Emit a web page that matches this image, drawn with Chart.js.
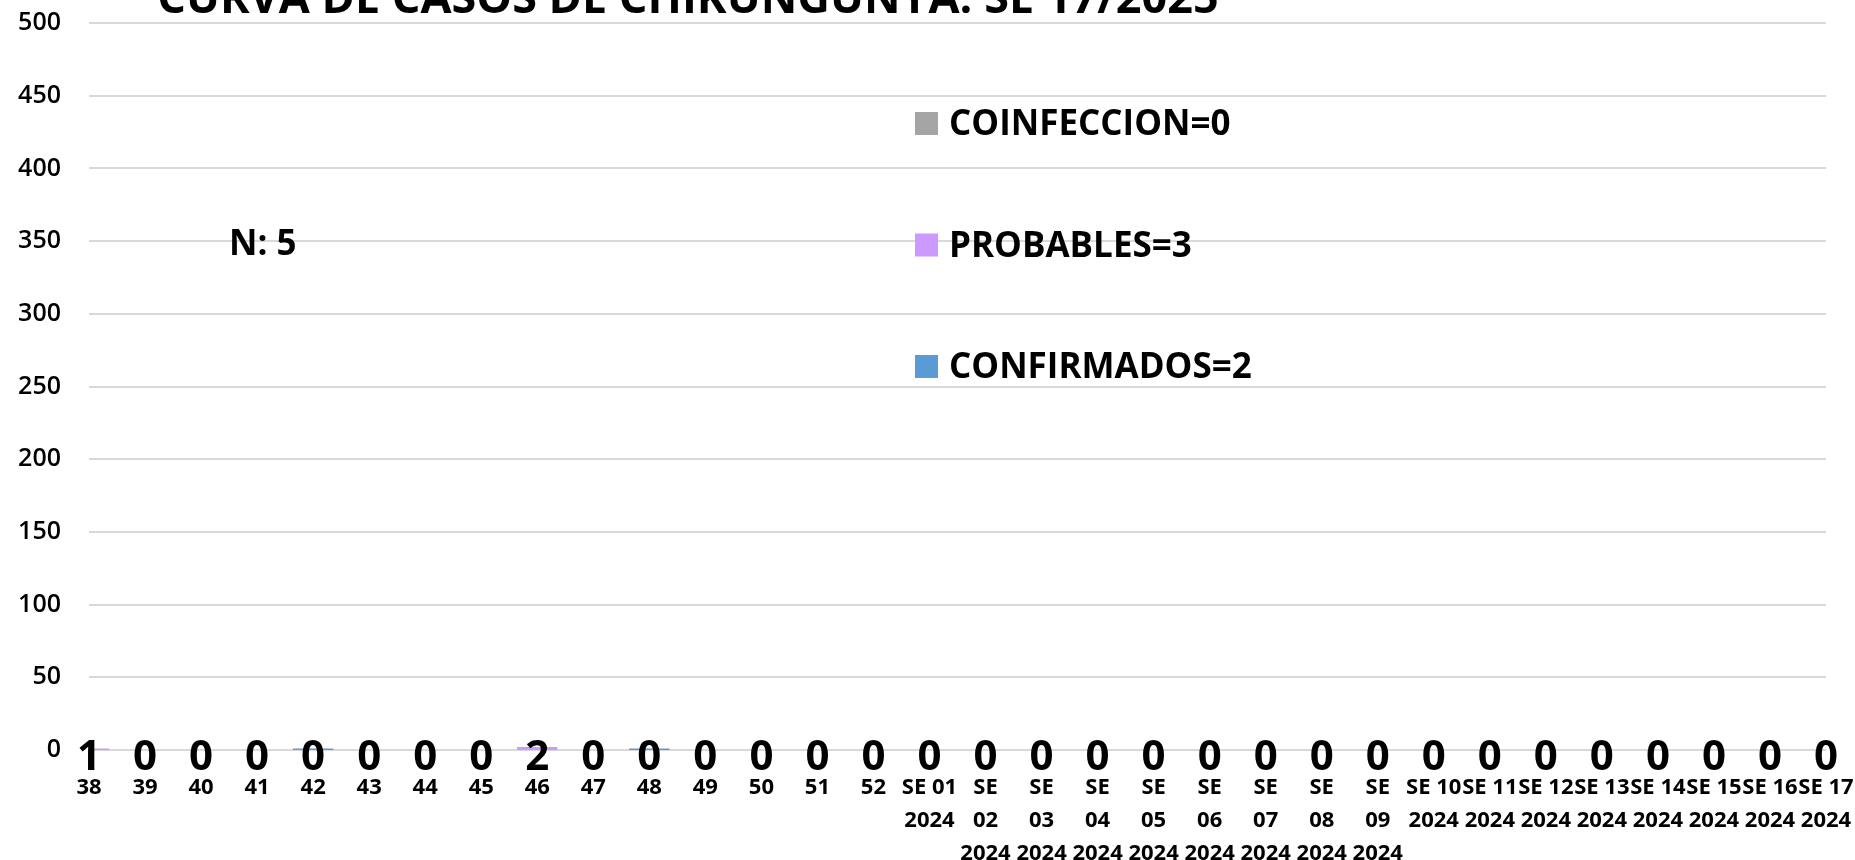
<!DOCTYPE html>
<html>
<head>
<meta charset="utf-8">
<script src="https://cdn.jsdelivr.net/npm/chart.js@4.4.1/dist/chart.umd.min.js"></script>
<style>
  html, body { margin: 0; padding: 0; background: #fff; }
  #wrap { width: 1855px; height: 860px; position: relative; }
</style>
</head>
<body>
<div id="wrap"><canvas id="barChart"></canvas></div>
<script>
// semanas epidemiologicas
const semanas = ['38', '39', '40', '41', '42', '43', '44', '45', '46', '47', '48', '49', '50', '51', '52',
  ['SE 01', '2024'], ['SE', '02', '2024'], ['SE', '03', '2024'], ['SE', '04', '2024'], ['SE', '05', '2024'],
  ['SE', '06', '2024'], ['SE', '07', '2024'], ['SE', '08', '2024'], ['SE', '09', '2024'],
  ['SE 10', '2024'], ['SE 11', '2024'], ['SE 12', '2024'], ['SE 13', '2024'], ['SE 14', '2024'],
  ['SE 15', '2024'], ['SE 16', '2024'], ['SE 17', '2024']];

const confirmados = [0, 0, 0, 0, 1, 0, 0, 0, 0, 0, 1, 0, 0, 0, 0, 0, 0, 0, 0, 0, 0, 0, 0, 0, 0, 0, 0, 0, 0, 0, 0, 0];
const probables   = [1, 0, 0, 0, 0, 0, 0, 0, 2, 0, 0, 0, 0, 0, 0, 0, 0, 0, 0, 0, 0, 0, 0, 0, 0, 0, 0, 0, 0, 0, 0, 0];
const coinfeccion = [0, 0, 0, 0, 0, 0, 0, 0, 0, 0, 0, 0, 0, 0, 0, 0, 0, 0, 0, 0, 0, 0, 0, 0, 0, 0, 0, 0, 0, 0, 0, 0];

const nombres = ['CONFIRMADOS=2', 'PROBABLES=3', 'COINFECCION=0'];
const colores = ['#5b9bd5', '#cc99ff', '#a5a5a5'];
const titulo = 'CURVA DE CASOS DE CHIKUNGUNYA. SE 17/2025';
const totalTexto = 'N: 5';

const FONT = '"Open Sans", "Noto Sans", sans-serif';

// lineas de la grilla solo entre la primera y la ultima semana
const grilla = {
  id: 'grilla',
  beforeDatasetsDraw(chart) {
    const ctx = chart.ctx;
    const x = chart.scales.x, y = chart.scales.y;
    const x0 = x.getPixelForValue(0);
    const x1 = x.getPixelForValue(semanas.length - 1);
    ctx.save();
    ctx.strokeStyle = '#d9d9d9';
    ctx.lineWidth = 2;
    y.ticks.forEach(t => {
      const py = Math.round(y.getPixelForValue(t.value));
      ctx.beginPath();
      ctx.moveTo(x0, py);
      ctx.lineTo(x1, py);
      ctx.stroke();
    });
    ctx.restore();
  }
};

// titulo, N, etiquetas y leyenda dibujados a mano
const extras = {
  id: 'extras',
  afterDatasetsDraw(chart) {
    const ctx = chart.ctx;
    const x = chart.scales.x, y = chart.scales.y;
    ctx.save();
    ctx.fillStyle = '#000';

    // etiquetas de datos (probables)
    ctx.font = 'bold 42px ' + FONT;
    ctx.textAlign = 'center';
    ctx.textBaseline = 'alphabetic';
    probables.forEach((v, i) => {
      ctx.fillText(String(v), x.getPixelForValue(i), y.getPixelForValue(0) + 20);
    });

    // titulo
    ctx.font = 'bold 45px ' + FONT;
    ctx.fillText(titulo, 688, 13);

    // N
    ctx.textAlign = 'left';
    ctx.font = 'bold 35px ' + FONT;
    ctx.fillText(totalTexto, 229, 255);

    // leyenda (orden inverso como en excel)
    ctx.font = 'bold 35px ' + FONT;
    const ds = chart.data.datasets.slice().reverse();
    ds.forEach((d, k) => {
      const base = 135 + k * 121.5;
      ctx.fillStyle = d.backgroundColor;
      ctx.fillRect(915, base - 23, 23, 23);
      ctx.fillStyle = '#000';
      ctx.fillText(d.label, 949, base);
    });
    ctx.restore();
  }
};

const ctx = document.getElementById('barChart');
new Chart(ctx, {
  type: 'bar',
  data: {
    labels: semanas,
    datasets: [
      { label: nombres[0], data: confirmados, backgroundColor: colores[0], clip: 0 },
      { label: nombres[1], data: probables, backgroundColor: colores[1], clip: 0 },
      { label: nombres[2], data: coinfeccion, backgroundColor: colores[2], clip: 0 }
    ]
  },
  options: {
    responsive: true,
    maintainAspectRatio: false,
    animation: false,
    layout: { padding: { top: 23, right: 0, bottom: 0, left: 0 } },
    plugins: {
      legend: { display: false },
      tooltip: { enabled: false }
    },
    scales: {
      x: {
        stacked: true,
        offset: false,
        grid: { display: false, drawTicks: false },
        border: { display: false },
        afterFit: s => { s.height = 110; s.paddingLeft = 0; s.paddingRight = 29; },
        ticks: {
          autoSkip: false,
          maxRotation: 0,
          minRotation: 0,
          padding: 21,
          color: '#000',
          font: { family: FONT, size: 22, weight: 'bold', lineHeight: 1.5 }
        }
      },
      y: {
        stacked: true,
        min: 0,
        max: 500,
        afterFit: s => { s.width = 89; s.paddingTop = 0; s.paddingBottom = 0; },
        grid: { display: false, drawTicks: false },
        border: { display: false },
        ticks: {
          stepSize: 50,
          padding: 28,
          color: '#000',
          font: { family: FONT, size: 25, weight: '600' }
        }
      }
    }
  },
  plugins: [grilla, extras]
});
</script>
</body>
</html>
